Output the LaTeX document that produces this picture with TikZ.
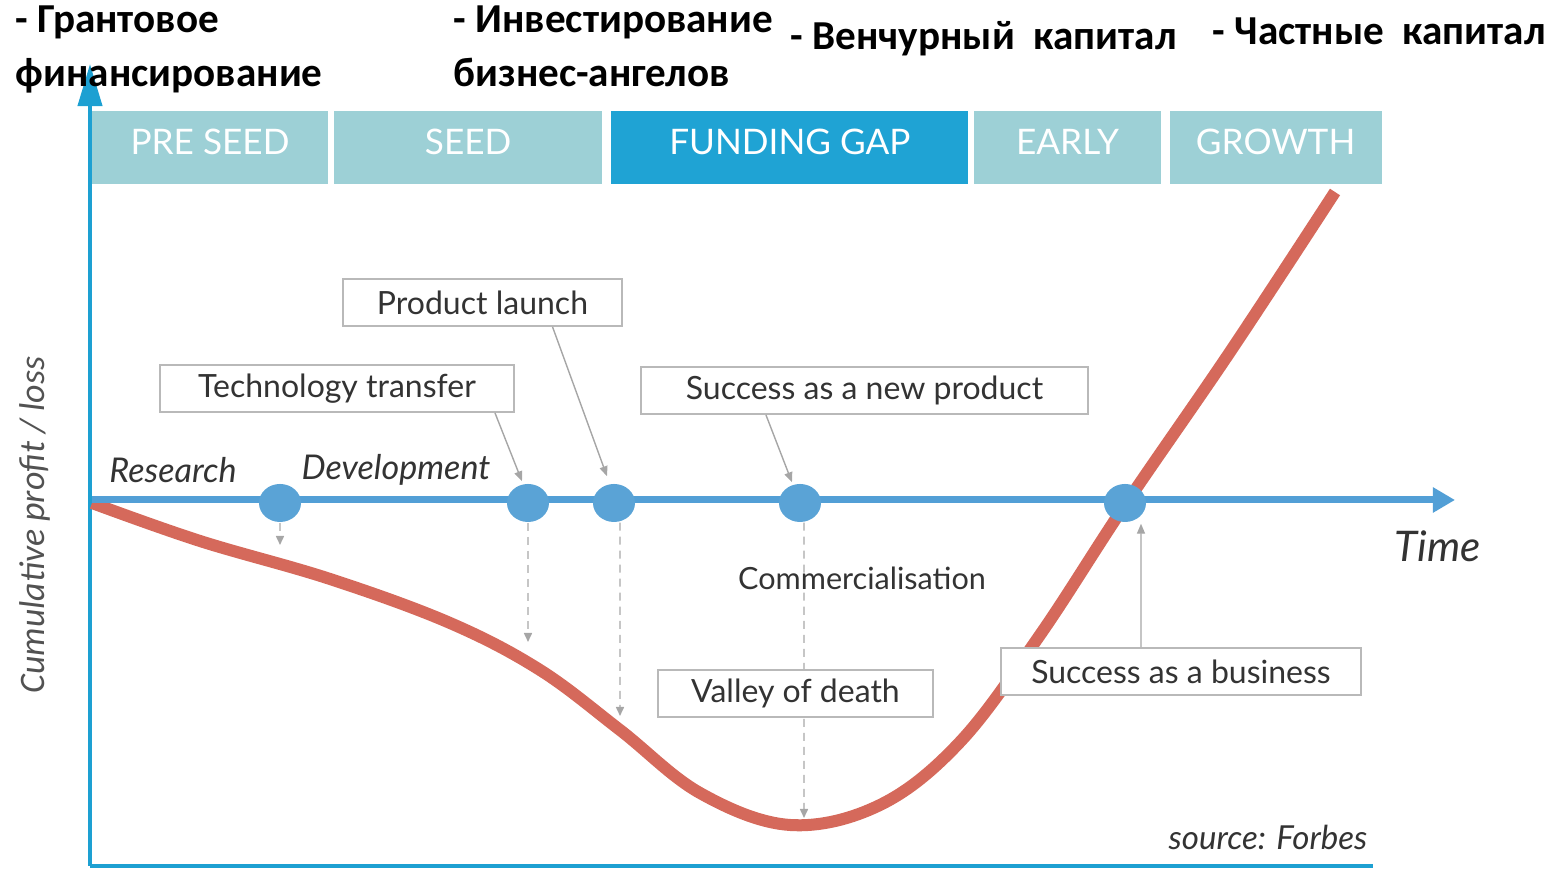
\documentclass[tikz,border=0pt]{standalone}
\usepackage{fontspec}
\setmainfont{Lato}
\newfontfamily\rufont{Carlito}
\usetikzlibrary{arrows.meta, positioning, shapes.geometric}
\definecolor{stagelight}{HTML}{9DD0D6}
\definecolor{stagedark}{HTML}{1FA3D4}
\definecolor{axisblue}{HTML}{1DA0D2}
\definecolor{timeblue}{HTML}{529FD6}
\definecolor{dotblue}{HTML}{5AA3D6}
\definecolor{curvered}{HTML}{D5695B}
\definecolor{labelgray}{HTML}{333333}
\tikzset{%
	stage/.style={
		rectangle,
		fill=stagelight,
		text=white,
		minimum height=0.73cm,
		inner sep=0pt,
		outer sep=0pt,
		text height=0.25cm,
		text depth=0.1cm,
		font=\fontsize{10}{12}\selectfont
	},
	infobox/.style={
		rectangle,
		draw=gray!55,
		line width=0.5pt,
		fill=white,
		text=labelgray,
		minimum height=0.47cm,
		inner sep=0pt,
		font=\fontsize{9.1}{11}\selectfont
	},
	event/.style={
		ellipse,
		fill=dotblue,
		minimum width=0.42cm,
		minimum height=0.38cm,
		inner sep=0pt
	},
	phase/.style={
		text=labelgray,
		inner sep=0pt,
		font=\fontsize{9.7}{11}\selectfont\itshape
	},
	fundtext/.style={
		anchor=base west,
		align=left,
		inner sep=0pt,
		font=\rufont\bfseries\fontsize{11.7}{15.6}\selectfont
	},
	pointer/.style={
		draw=gray!70,
		line width=0.4pt,
		-{Triangle[length=0.1cm,width=0.08cm]}
	},
	dropline/.style={
		draw=gray!45,
		line width=0.45pt,
		dash pattern=on 0.08cm off 0.06cm,
		-{Triangle[length=0.09cm,width=0.08cm,color=gray!70]}
	},
}

\begin{document}
\begin{tikzpicture}[x=0.01cm, y=-0.01cm]
	\useasboundingbox (0,0) rectangle (1550,871);

	% Funding stages
	\node[stage, minimum width=2.36cm] (preseed) at (210,147.5) {PRE SEED};
	\node[stage, minimum width=2.68cm, right=0.06cm of preseed] (seed) {SEED};
	\node[stage, minimum width=3.57cm, fill=stagedark, right=0.09cm of seed] (gap) {FUNDING GAP};
	\node[stage, minimum width=1.86cm, right=0.06cm of gap] (early) {EARLY};
	\node[stage, minimum width=2.12cm, right=0.09cm of early] (growth) {GROWTH};

	% Axes
	\coordinate (origin) at (90,866);
	\coordinate (ytip) at (90,64);
	\coordinate (xend) at (1373,866);
	\draw[axisblue, line width=0.04cm, -{Triangle[length=0.42cm,width=0.24cm]}] (origin) -- (ytip);
	\draw[axisblue, line width=0.04cm] (origin) -- (xend);

	% Cumulative profit curve
	\draw[curvered, line width=0.12cm] plot[smooth, tension=0.6] coordinates {
		(92,503) (200,541) (330,579) (450,623) (540,670) (620,730)
		(700,793) (790,825) (880,805) (960,742) (1040,635) (1125,505)
		(1230,352) (1335,192)};

	% Time line
	\coordinate (tstart) at (92,500);
	\coordinate (tend) at (1455,500);
	\draw[timeblue, line width=0.07cm, -{Triangle[length=0.22cm,width=0.24cm]}] (tstart) -- (tend);

	% Milestones
	\node[event] (dresearch) at (280,503) {};
	\node[event] (dtech) at (528,503) {};
	\node[event] (dlaunch) at (614,503) {};
	\node[event] (dproduct) at (800,503) {};
	\node[event] (dbusiness) at (1125,503) {};

	% Drops to the curve
	\coordinate (drop1) at (280,545);
	\coordinate (drop2) at (528,642);
	\coordinate (drop3) at (620,716);
	\coordinate (drop4) at (804,818);
	\draw[dropline] (dresearch.south) -- (drop1);
	\draw[dropline] (dtech.south) -- (drop2);
	\draw[dropline] ([xshift=0.06cm]dlaunch.south) -- (drop3);
	\draw[dropline] ([xshift=0.04cm]dproduct.south) -- (drop4);

	% Callout boxes
	\node[infobox, minimum width=2.79cm] (launch) at (482.5,302.5) {Product launch};
	\node[infobox, minimum width=3.54cm] (techbox) at (337,388.5) {Technology transfer\hspace{0.14cm}};
	\node[infobox, minimum width=4.47cm] (newprod) at (864.5,390.5) {Success as a new product};
	\node[infobox, minimum width=2.75cm] (valley) at (795.5,693.5) {Valley of death};
	\node[infobox, minimum width=3.60cm] (business) at (1181,671.5) {Success as a business\hspace{0.1cm}};

	\draw[pointer] ([xshift=-0.2cm]techbox.south east) -- ([xshift=-0.06cm,yshift=0.02cm]dtech.north);
	\draw[pointer] ([xshift=0.7cm]launch.south) -- ([xshift=-0.07cm,yshift=0.07cm]dlaunch.north);
	\draw[pointer] ([xshift=-0.985cm]newprod.south) -- ([xshift=-0.08cm,yshift=0.01cm]dproduct.north);
	\draw[pointer] ([xshift=-0.4cm]business.north) -- ([xshift=0.16cm,yshift=-0.01cm]dbusiness.south);

	% Phase labels
	\node[phase] (research) at (173,470) {Research};
	\node[phase] (develop) at (396,470) {Development};
	\node[phase, font=\fontsize{12}{14}\selectfont\itshape] (time) at (1438,546) {Time};
	\node[phase, font=\fontsize{8.7}{10}\selectfont] (commerce) at (862,578) {Commercialisation};
	\node[phase, font=\fontsize{9.4}{11}\selectfont\itshape] (source) at (1268,837) {source: Forbes};
	\node[phase, rotate=90, text=labelgray!85, font=\rufont\itshape\fontsize{10.2}{12}\selectfont] (ylabel) at (35,525) {Cumulative profit / loss};

	% Funding sources
	\node[fundtext] (grant) at (15,87) {- Грантовое\\финансирование};
	\node[fundtext] (angels) at (453,87) {- Инвестирование\\бизнес-ангелов};
	\node[fundtext] (venture) at (790,50) {- Венчурный\ \ капитал};
	\node[fundtext] (private) at (1212,45) {- Частные\ \ капитал};
\end{tikzpicture}
\end{document}
